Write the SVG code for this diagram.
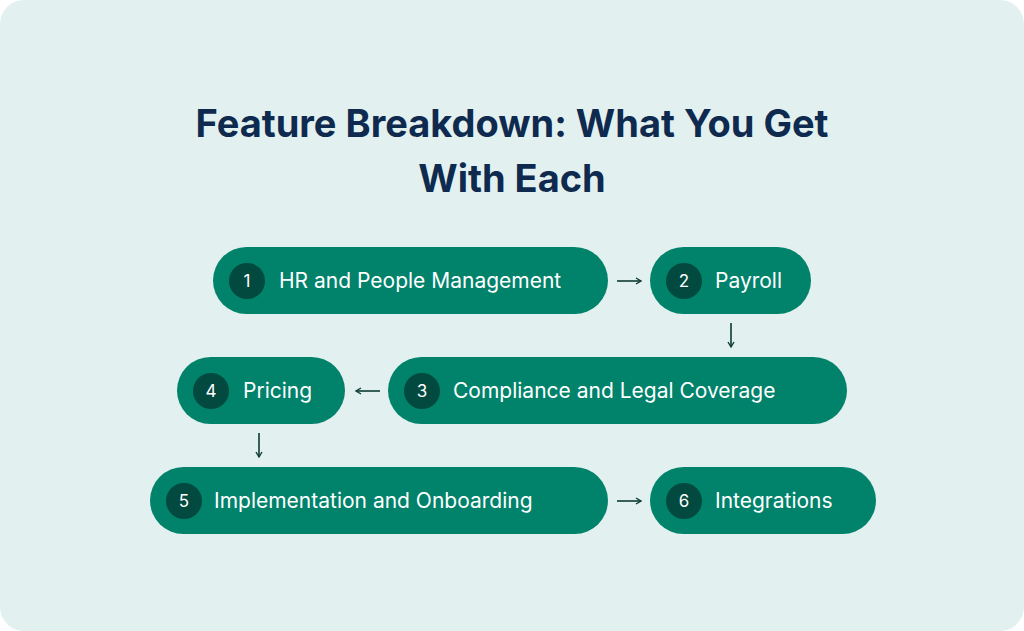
<svg xmlns="http://www.w3.org/2000/svg" width="1024" height="631" viewBox="0 0 1024 631">
<style>
.n{fill:#00826b}.c{fill:#02493f}.t{fill:#fff;font-family:Inter,"Liberation Sans",sans-serif;font-size:21px}
.d{fill:#fff;font-family:Inter,"Liberation Sans",sans-serif;font-size:17px;text-anchor:middle}
.h{fill:#0f2a4f;font-family:Inter,"Liberation Sans",sans-serif;font-size:38px;font-weight:700;text-anchor:middle}
.a{stroke:#0d3b33;stroke-width:1.6;fill:none;marker-end:url(#m)}
</style>
<defs><marker id="m" markerWidth="8" markerHeight="8" refX="6" refY="4" orient="auto" markerUnits="userSpaceOnUse"><path d="M1,1 L6,4 L1,7" fill="none" stroke="#0d3b33" stroke-width="1.4"/></marker></defs>
<rect width="1024" height="631" rx="24" fill="#e2f1ef"/>
<text class="h" x="512" y="137">Feature Breakdown: What You Get</text>
<text class="h" x="512" y="192">With Each</text>
<g id="n1"><rect class="n" x="213" y="247" width="395" height="67" rx="33.5"/><circle class="c" cx="247" cy="281" r="18"/><text class="d" x="247" y="287">1</text><text class="t" x="279" y="288">HR and People Management</text></g>
<g id="n2"><rect class="n" x="650" y="247" width="161" height="67" rx="33.5"/><circle class="c" cx="684" cy="281" r="18"/><text class="d" x="684" y="287">2</text><text class="t" x="715" y="288">Payroll</text></g>
<g id="n3"><rect class="n" x="388" y="357" width="459" height="67" rx="33.5"/><circle class="c" cx="422" cy="391" r="18"/><text class="d" x="422" y="397">3</text><text class="t" x="453" y="398">Compliance and Legal Coverage</text></g>
<g id="n4"><rect class="n" x="177" y="357" width="168" height="67" rx="33.5"/><circle class="c" cx="211" cy="391" r="18"/><text class="d" x="211" y="397">4</text><text class="t" x="243" y="398">Pricing</text></g>
<g id="n5"><rect class="n" x="150" y="467" width="458" height="67" rx="33.5"/><circle class="c" cx="184" cy="501" r="18"/><text class="d" x="184" y="507">5</text><text class="t" x="214" y="508">Implementation and Onboarding</text></g>
<g id="n6"><rect class="n" x="650" y="467" width="226" height="67" rx="33.5"/><circle class="c" cx="684" cy="501" r="18"/><text class="d" x="684" y="507">6</text><text class="t" x="715" y="508">Integrations</text></g>
<g id="connectors">
<path class="a" d="M617,281 H641"/>
<path class="a" d="M731,323 V347"/>
<path class="a" d="M380,391 H356"/>
<path class="a" d="M259,433 V457"/>
<path class="a" d="M617,501 H641"/>
</g>
</svg>
